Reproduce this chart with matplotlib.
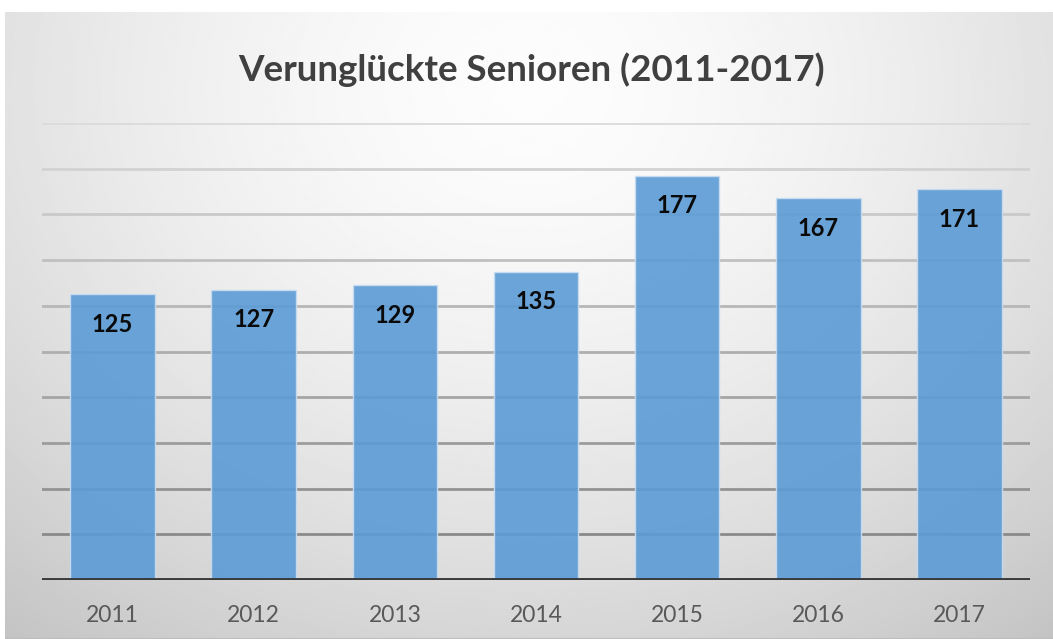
import numpy as np
import matplotlib.pyplot as plt

years = ["2011", "2012", "2013", "2014", "2015", "2016", "2017"]
victims = [125, 127, 129, 135, 177, 167, 171]
grid_ticks = [20, 40, 60, 80, 100, 120, 140, 160, 180, 200]

plt.rcParams['font.family'] = ['Lato', 'DejaVu Sans']

W, H = 1053, 639
fig = plt.figure(figsize=(W / 100, H / 100), dpi=100)
fig.patch.set_facecolor("white")

# radial gradient background (light centre near the title, gray edges)
bg = fig.add_axes([5 / W, 0, 1 - 5 / W, 1 - 12 / H])
bg.set_axis_off()
yy, xx = np.mgrid[0:1:300j, 0:1:500j]
r = np.sqrt(((xx - 0.5) / 0.75) ** 2 + ((yy - 0.12) / 1.05) ** 2)
shade = 0.99 - 0.20 * np.clip(r, 0, 1.2) ** 1.6
bg.imshow(shade, cmap="gray", vmin=0, vmax=1, aspect="auto",
          extent=[0, 1, 1, 0], interpolation="bilinear")
bg.axhline(1.0, color="#bdbdbd", lw=1.5)
bg.set_xlim(0, 1)
bg.set_ylim(1, 0)

ax = fig.add_axes([42 / W, 1 - 580 / H, (1030 - 42) / W, (580 - 123) / H])
ax.patch.set_alpha(0)
ax.set_xlim(-0.5, len(years) - 0.5)
ax.set_ylim(0, 200)

# gridlines get darker towards the bottom
for i, g in enumerate(grid_ticks):
    t = i / (len(grid_ticks) - 1)
    c = 0.54 + t * (0.86 - 0.54)
    ax.axhline(g, color=(c, c, c), lw=2, zorder=1)

x = np.arange(len(years))
bars = ax.bar(x, victims, width=0.6, color="#5b9bd5", alpha=0.9,
              edgecolor="#c9ddf1", linewidth=1, zorder=2)
ax.axhline(0, color="#3a3a3a", lw=2.8, zorder=3)

for b, v in zip(bars, victims):
    ax.annotate(str(v), (b.get_x() + b.get_width() / 2, v),
                xytext=(0, -30), textcoords="offset pixels",
                ha="center", va="center", fontsize=17, fontweight="bold",
                color="#0a0a0a", zorder=4)

ax.set_xticks(x)
ax.set_xticklabels(years, fontsize=16.5, color="#595959")
ax.tick_params(axis="x", length=0, pad=18)
ax.set_yticks([])
for s in ax.spines.values():
    s.set_visible(False)

fig.text(532 / W, 1 - 70 / H, "Verunglückte Senioren (2011-2017)",
         ha="center", va="center", fontsize=26.5, fontweight="bold",
         color="#404040")

fig.savefig("out.png", dpi=100)
